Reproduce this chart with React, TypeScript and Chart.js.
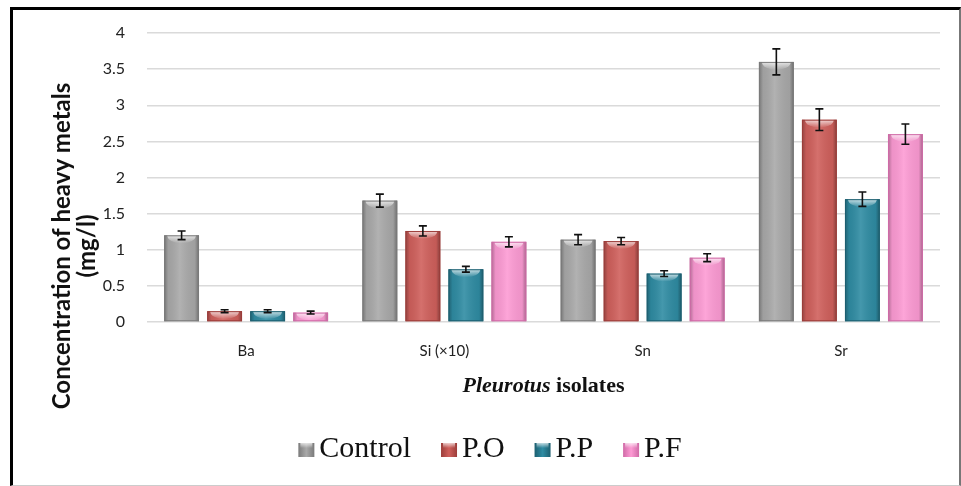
import React, { useEffect, useRef } from "react";
import { Chart, registerables } from "chart.js";

Chart.register(...registerables);

const categories = ["Ba", "Si (×10)", "Sn", "Sr"];
const seriesNames = ["Control", "P.O", "P.P", "P.F"];
const controlValues = [1.2, 1.68, 1.14, 3.6];
const poValues = [0.15, 1.26, 1.12, 2.8];
const ppValues = [0.15, 0.73, 0.67, 1.7];
const pfValues = [0.13, 1.11, 0.89, 2.6];
const controlErr = [0.06, 0.09, 0.07, 0.18];
const poErr = [0.02, 0.07, 0.05, 0.15];
const ppErr = [0.02, 0.04, 0.04, 0.1];
const pfErr = [0.02, 0.07, 0.055, 0.14];
const yTicks = [0, 0.5, 1, 1.5, 2, 2.5, 3, 3.5, 4];
const xTitleItalic = "Pleurotus";
const xTitleRest = " isolates";
const yTitleLines = ["Concentration of heavy metals", "(mg/l)"];

const colors = ["#a9a9a9", "#d0605c", "#2f8ca3", "#fd9bd4"];
const edgeColors = ["#7a7a7a", "#9c3d3a", "#1d5f70", "#d06aa7"];

const extrasPlugin = {
  id: "extras",
  afterDatasetsDraw(chart: any) {
    const ctx = chart.ctx as CanvasRenderingContext2D;
    const yScale = chart.scales.y;
    const errs = [controlErr, poErr, ppErr, pfErr];
    chart.data.datasets.forEach((ds: any, di: number) => {
      const meta = chart.getDatasetMeta(di);
      meta.data.forEach((el: any, i: number) => {
        const w = el.width;
        const left = el.x - w / 2;
        const top = el.y;
        const h = el.base - el.y;
        ctx.save();
        const g = ctx.createLinearGradient(left, 0, left + w, 0);
        g.addColorStop(0, "rgba(0,0,0,0.30)");
        g.addColorStop(0.12, "rgba(0,0,0,0.06)");
        g.addColorStop(0.45, "rgba(255,255,255,0.10)");
        g.addColorStop(0.88, "rgba(0,0,0,0.06)");
        g.addColorStop(1, "rgba(0,0,0,0.35)");
        ctx.fillStyle = g;
        ctx.fillRect(left, top, w, h);
        const capH = Math.min(8, h);
        const g2 = ctx.createLinearGradient(0, top, 0, top + capH);
        g2.addColorStop(0, "rgba(255,255,255,0.75)");
        g2.addColorStop(1, "rgba(255,255,255,0)");
        ctx.fillStyle = g2;
        ctx.beginPath();
        ctx.ellipse(el.x, top, w / 2 - 3, capH, 0, 0, Math.PI);
        ctx.fill();
        ctx.strokeStyle = edgeColors[di];
        ctx.lineWidth = 1;
        ctx.strokeRect(left + 0.5, top + 0.5, w - 1, h - 1);
        ctx.restore();

        const v = ds.data[i];
        const e = errs[di][i];
        const yHi = yScale.getPixelForValue(v + e);
        const yLo = yScale.getPixelForValue(v - e);
        ctx.save();
        ctx.strokeStyle = "#111";
        ctx.lineWidth = 1.6;
        ctx.beginPath();
        ctx.moveTo(el.x, yHi);
        ctx.lineTo(el.x, yLo);
        ctx.moveTo(el.x - 4, yHi);
        ctx.lineTo(el.x + 4, yHi);
        ctx.moveTo(el.x - 4, yLo);
        ctx.lineTo(el.x + 4, yLo);
        ctx.stroke();
        ctx.restore();
      });
    });
  },
  afterDraw(chart: any) {
    const ctx = chart.ctx as CanvasRenderingContext2D;
    const area = chart.chartArea;
    ctx.save();
    // x title
    ctx.fillStyle = "#111";
    ctx.textBaseline = "middle";
    const f1 = "italic bold 22px 'Liberation Serif'";
    const f2 = "bold 22px 'Liberation Serif'";
    ctx.font = f1;
    const w1 = ctx.measureText(xTitleItalic).width;
    ctx.font = f2;
    const w2 = ctx.measureText(xTitleRest).width;
    const cx = (area.left + area.right) / 2;
    const x0 = cx - (w1 + w2) / 2;
    ctx.textAlign = "left";
    ctx.font = f1;
    ctx.fillText(xTitleItalic, x0, 386);
    ctx.font = f2;
    ctx.fillText(xTitleRest, x0 + w1, 386);

    // y title
    ctx.save();
    ctx.translate(0, 246);
    ctx.rotate(-Math.PI / 2);
    ctx.textAlign = "center";
    ctx.font = "bold 24px Lato";
    ctx.fillText(yTitleLines[0], 0, 62);
    ctx.fillText(yTitleLines[1], 0, 87);
    ctx.restore();

    // legend
    ctx.font = "30px 'Liberation Serif'";
    const boxW = 16;
    const boxH = 14;
    const gapText = 5;
    const gapItem = 30;
    const widths = seriesNames.map((n) => ctx.measureText(n).width);
    const total =
      widths.reduce((a, b) => a + b, 0) + seriesNames.length * (boxW + gapText) + gapItem * (seriesNames.length - 1);
    let lx = 490 - total / 2;
    const baseline = 457;
    ctx.textBaseline = "alphabetic";
    seriesNames.forEach((n, i) => {
      const by = 443;
      const g = ctx.createLinearGradient(lx, 0, lx + boxW, 0);
      g.addColorStop(0, edgeColors[i]);
      g.addColorStop(0.5, colors[i]);
      g.addColorStop(1, edgeColors[i]);
      ctx.fillStyle = g;
      ctx.fillRect(lx, by, boxW, boxH);
      const g2 = ctx.createLinearGradient(0, by, 0, by + 5);
      g2.addColorStop(0, "rgba(255,255,255,0.7)");
      g2.addColorStop(1, "rgba(255,255,255,0)");
      ctx.fillStyle = g2;
      ctx.fillRect(lx + 2, by, boxW - 4, 5);
      ctx.fillStyle = "#111";
      ctx.fillText(n, lx + boxW + gapText, baseline);
      lx += boxW + gapText + widths[i] + gapItem;
    });
    ctx.restore();
  },
};

export default function App() {
  const ref = useRef<HTMLCanvasElement | null>(null);
  useEffect(() => {
    if (!ref.current) return;
    const values = [controlValues, poValues, ppValues, pfValues];
    const chart = new Chart(ref.current, {
      type: "bar",
      data: {
        labels: categories,
        datasets: seriesNames.map((name, i) => ({
          label: name,
          data: values[i],
          backgroundColor: colors[i],
          borderWidth: 0,
          categoryPercentage: 0.868,
          barPercentage: 0.81,
        })),
      },
      options: {
        responsive: false,
        animation: false,
        layout: { padding: { left: 0, right: 21, top: 33, bottom: 0 } },
        plugins: {
          legend: { display: false },
          tooltip: { enabled: false },
          title: { display: false },
        },
        scales: {
          x: {
            grid: { display: false, drawTicks: false },
            border: { display: false },
            ticks: {
              padding: 20,
              color: "#222",
              font: { family: "Lato", size: 15 },
            },
            afterFit: (s: any) => {
              s.height = 164;
            },
          },
          y: {
            min: 0,
            max: 4,
            grid: { color: "#dadada", lineWidth: 1.5, drawTicks: false },
            border: { display: false },
            afterBuildTicks: (s: any) => {
              s.ticks = yTicks.map((v) => ({ value: v }));
            },
            ticks: {
              padding: 22,
              color: "#222",
              font: { family: "Lato", size: 16 },
              callback: (v: any) => String(v),
            },
            afterFit: (s: any) => {
              s.width = 147;
            },
          },
        },
      },
      plugins: [extrasPlugin],
    });
    return () => chart.destroy();
  }, []);
  return (
    <div style={{ position: "fixed", left: 0, top: 0, width: 961, height: 486, background: "#fff" }}>
      <div
        style={{
          position: "absolute",
          left: 10,
          top: 7,
          width: 951,
          height: 479,
          boxSizing: "border-box",
          borderLeft: "3px solid #000",
          borderTop: "3px solid #000",
          borderRight: "2px solid #777",
          borderBottom: "1px solid #ccc",
        }}
      />
      <canvas ref={ref} width={961} height={486} style={{ position: "absolute", left: 0, top: 0 }} />
    </div>
  );
}
